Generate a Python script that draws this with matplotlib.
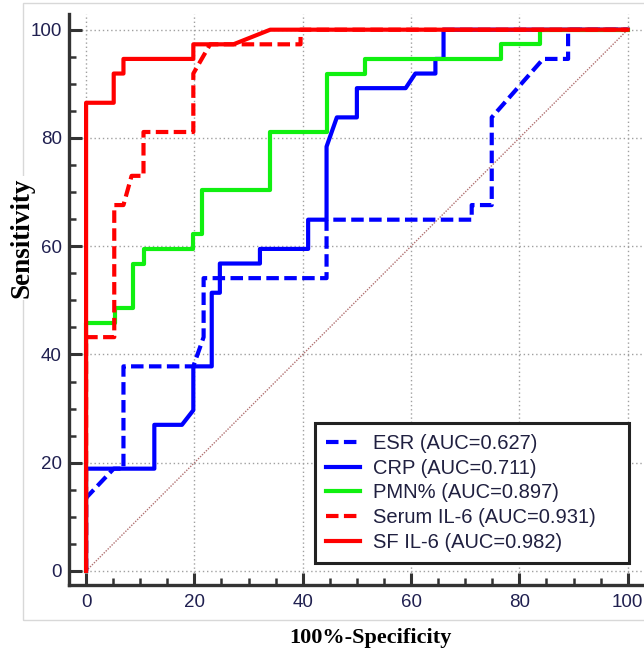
import matplotlib
matplotlib.use('Agg')
import matplotlib.pyplot as plt
from matplotlib.patches import Rectangle

# ROC curves (x = 100%-Specificity, y = Sensitivity)
esr_x = [0, 0, 5.1, 6.9, 6.9, 19.8, 21.7, 21.7, 44.4, 44.4, 71.2, 71.2, 74.9, 74.9, 84.4, 89.0, 89.0, 100]
esr_y = [0, 13.5, 18.9, 18.9, 37.8, 37.8, 43.2, 54.1, 54.1, 64.9, 64.9, 67.6, 67.6, 83.8, 94.6, 94.6, 100, 100]

crp_x = [0, 0, 12.6, 12.6, 17.7, 19.8, 19.8, 23.2, 23.2, 24.7, 24.7, 32.1, 32.1, 41.0, 41.0, 44.4,
         44.4, 46.3, 50.0, 50.0, 59.0, 60.8, 64.5, 64.5, 66.0, 66.0, 100]
crp_y = [0, 18.9, 18.9, 27.0, 27.0, 29.7, 37.8, 37.8, 51.4, 51.4, 56.8, 56.8, 59.5, 59.5, 64.9, 64.9,
         78.4, 83.8, 83.8, 89.2, 89.2, 91.9, 91.9, 94.6, 94.6, 100, 100]

pmn_x = [0, 0, 5.4, 5.4, 8.7, 8.7, 10.7, 10.7, 19.8, 19.8, 21.4, 21.4, 34.0, 34.0, 44.4, 44.4,
         51.5, 51.5, 76.7, 76.7, 83.8, 83.8, 100]
pmn_y = [0, 45.9, 45.9, 48.6, 48.6, 56.8, 56.8, 59.5, 59.5, 62.2, 62.2, 70.3, 70.3, 81.1, 81.1, 91.9,
         91.9, 94.6, 94.6, 97.3, 97.3, 100, 100]

serum_x = [0, 0, 5.2, 5.2, 6.9, 8.4, 10.6, 10.6, 19.8, 19.8, 22.9, 39.6, 39.6, 100]
serum_y = [0, 43.2, 43.2, 67.6, 67.6, 73.0, 73.0, 81.1, 81.1, 91.9, 97.3, 97.3, 100, 100]

sf_x = [0, 0, 5.1, 5.1, 6.9, 6.9, 19.8, 19.8, 27.2, 34.0, 100]
sf_y = [0, 86.5, 86.5, 91.9, 91.9, 94.6, 94.6, 97.3, 97.3, 100, 100]

labels = ['ESR (AUC=0.627)', 'CRP (AUC=0.711)', 'PMN% (AUC=0.897)',
          'Serum IL-6 (AUC=0.931)', 'SF IL-6 (AUC=0.982)']
ticks = [0, 20, 40, 60, 80, 100]
minor_ticks = [5, 10, 15, 25, 30, 35, 45, 50, 55, 65, 70, 75, 85, 90, 95]

W, H = 644, 651
fig = plt.figure(figsize=(W / 100, H / 100), dpi=100)

# light grey frame round the chart (cut off on the right like the original)
fig.add_artist(Rectangle((23 / W, 1 - 620 / H), 1.0, (620 - 3) / H, transform=fig.transFigure,
                         fill=False, edgecolor='#d8d8d8', lw=1, zorder=0))

ax = fig.add_axes([69.3 / W, (H - 584.5) / H, (671 - 69.3) / W, (584.5 - 14) / H])
ax.patch.set_alpha(0)

dash = (0, (3, 1.3))
lw = 3
ax.plot([0, 100], [0, 100], color='#b07070', lw=1, linestyle=(0, (1, 1)), zorder=2)
ax.plot(esr_x, esr_y, color='#0000ff', lw=lw, linestyle=dash, label=labels[0], zorder=3)
ax.plot(crp_x, crp_y, color='#0000ff', lw=lw, label=labels[1], zorder=3)
ax.plot(pmn_x, pmn_y, color='#10f010', lw=lw, label=labels[2], zorder=3)
ax.plot(serum_x, serum_y, color='#ff0000', lw=lw, linestyle=dash, label=labels[3], zorder=4)
ax.plot(sf_x, sf_y, color='#ff0000', lw=lw, label=labels[4], zorder=5)

ax.set_xlim(-3.1, 108)
ax.set_ylim(-2.5, 102.9)
ax.set_xticks(ticks)
ax.set_yticks(ticks)
ax.set_xticks(minor_ticks, minor=True)
ax.set_yticks(minor_ticks, minor=True)

for s in ['top', 'right']:
    ax.spines[s].set_visible(False)
for s in ['left', 'bottom']:
    ax.spines[s].set_linewidth(2.4)
    ax.spines[s].set_color('#333333')

ax.tick_params(which='major', direction='in', length=9, width=2.2, color='#333333',
               labelsize=13.5, labelcolor='#202050', labelfontfamily='Liberation Sans')
ax.tick_params(which='minor', direction='in', length=5, width=1.8, color='#333333')
ax.tick_params(axis='x', which='major', pad=7)
ax.tick_params(axis='y', which='major', pad=5.5)

ax.grid(True, which='major', color='#a0a0a0', linestyle=(0, (1, 2)), lw=1, zorder=1)

fig.text(370 / W, 1 - 638 / H, '100%-Specificity', ha='center', va='center',
         fontsize=16, fontweight='bold', family='Liberation Serif')
fig.text(22 / W, 1 - 238 / H, 'Sensitivity', ha='center', va='center', rotation=90,
         fontsize=19.5, fontweight='bold', family='Liberation Serif',
         bbox=dict(facecolor='white', edgecolor='none', pad=1))

leg = ax.legend(loc='lower left', bbox_to_anchor=(42.3, 1.5, 58.0, 25.5), bbox_transform=ax.transData,
                mode='expand', borderaxespad=0, fancybox=False, framealpha=1,
                edgecolor='#222222', handlelength=1.7, handletextpad=0.62,
                labelspacing=0.28, borderpad=0.55,
                prop={'family': 'Liberation Sans', 'size': 14.5})
leg.get_frame().set_linewidth(2.2)
for t in leg.get_texts():
    t.set_color('#202040')

plt.savefig('out.png', dpi=100)
